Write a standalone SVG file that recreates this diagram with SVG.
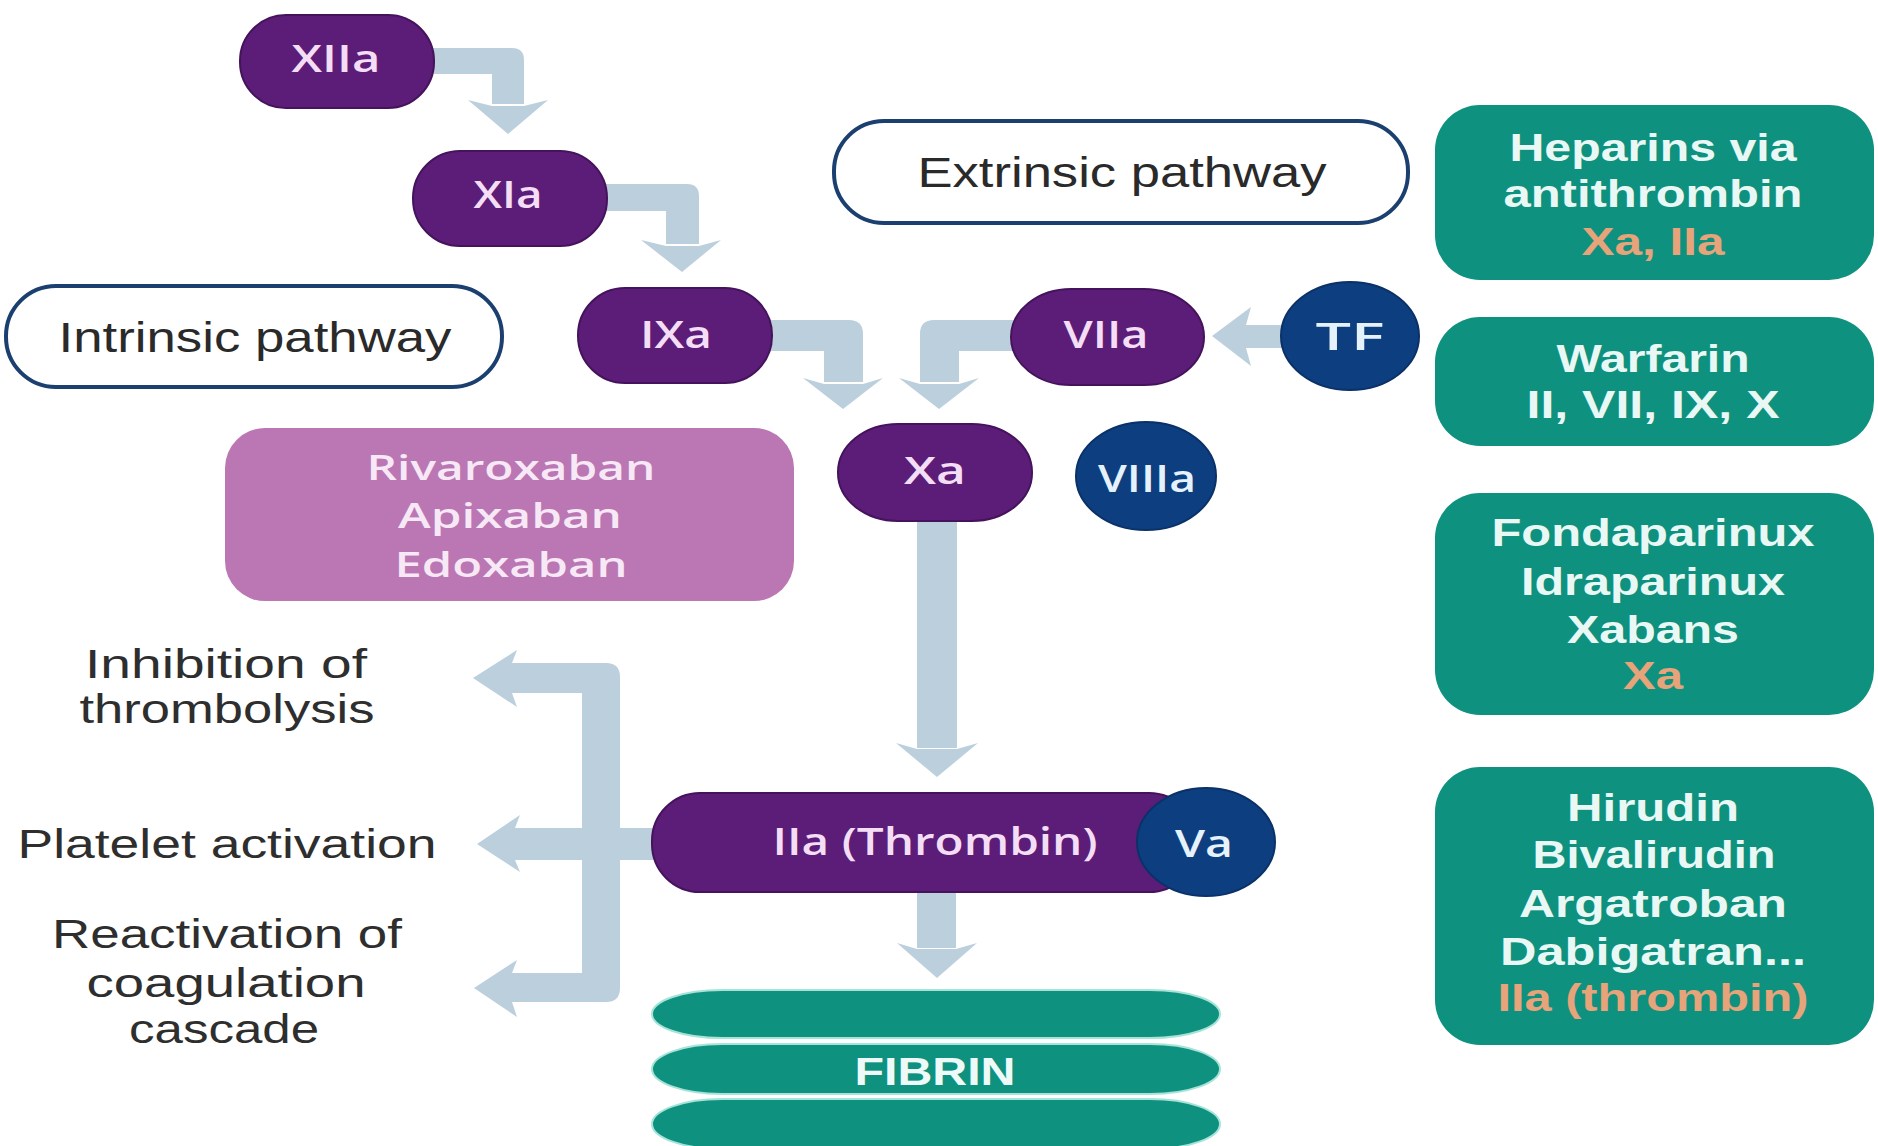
<svg xmlns="http://www.w3.org/2000/svg" width="1878" height="1146" viewBox="0 0 1878 1146">
<style>
.pill{fill:#5c1d78;stroke:#45135c;stroke-width:2}
.blue{fill:#0d3f80;stroke:#0a3168;stroke-width:2}
.lbl{font-family:"Open Sans","Liberation Sans",sans-serif;font-weight:600;font-size:38px;fill:#f3def5;text-anchor:middle}
.lblb{fill:#e6f2fb}
.path{fill:#ffffff;stroke:#1b4070;stroke-width:4}
.ptxt{font-family:"Liberation Sans","Open Sans",sans-serif;font-size:42px;fill:#2a2a2a;text-anchor:middle}
.side{font-family:"Liberation Sans","Open Sans",sans-serif;font-size:40px;fill:#2e2e2e;text-anchor:middle}
.gbox{fill:#0f917f}
.gtxt{font-family:"Liberation Sans","Open Sans",sans-serif;font-weight:bold;font-size:38px;fill:#e9f8f4;text-anchor:middle}
.org{fill:#e7a37a}
.riv{fill:#bb76b4}
.rtxt{font-family:"Open Sans","Liberation Sans",sans-serif;font-weight:600;font-size:35px;fill:#f7e8f6;text-anchor:middle}
.arr{fill:#bccfdd}
.fib{fill:#0f917f;stroke:#a6e3d8;stroke-width:2}
</style>

<g id="connectors">
  <path class="arr" d="M420,48 H512 Q524,48 524,60 V104 H492 V74 H420 Z"/>
  <path class="arr" d="M468,100 L492,106 L524,106 L548,100 L508,134 Z"/>
  <path class="arr" d="M600,184 H687 Q699,184 699,196 V244 H666 V211 H600 Z"/>
  <path class="arr" d="M641,240 L666,246 L699,246 L721,240 L682,272 Z"/>
  <path class="arr" d="M765,320 H849 Q863,320 863,334 V382 H824 V351 H765 Z"/>
  <path class="arr" d="M803,378 L824,384 L863,384 L883,378 L843,409 Z"/>
  <path class="arr" d="M1015,320 H934 Q920,320 920,334 V382 H959 V351 H1015 Z"/>
  <path class="arr" d="M899,378 L920,384 L959,384 L979,378 L939,409 Z"/>
  <path class="arr" d="M1290,325 H1246 V348 H1290 Z"/>
  <path class="arr" d="M1251,307 L1246,325 L1246,348 L1251,366 L1212,336 Z"/>
  <path class="arr" d="M917,515 H957 V748 H917 Z"/>
  <path class="arr" d="M896,743 L917,749 L957,749 L978,743 L937,777 Z"/>
  <path class="arr" d="M917,888 H956 V948 H917 Z"/>
  <path class="arr" d="M897,943 L917,949 L956,949 L977,943 L937,978 Z"/>
  <path class="arr" d="M512,663 H606 Q620,663 620,677 V988 Q620,1002 606,1002 H512 V973 H582 V693 H512 Z"/>
  <path class="arr" d="M515,828 H662 V860 H515 Z"/>
  <path class="arr" d="M517,650 L512,663 L512,693 L517,707 L473,678 Z"/>
  <path class="arr" d="M520,815 L515,828 L515,860 L520,872 L477,844 Z"/>
  <path class="arr" d="M517,960 L512,973 L512,1002 L517,1017 L474,988 Z"/>
</g>

<g id="node-XIIa">
  <rect class="pill" x="240" y="15" width="194" height="93" rx="46"/>
  <text class="lbl" x="336" y="72" textLength="89" lengthAdjust="spacingAndGlyphs">XIIa</text>
</g>
<g id="node-XIa">
  <rect class="pill" x="413" y="151" width="194" height="95" rx="47"/>
  <text class="lbl" x="508" y="208" textLength="69" lengthAdjust="spacingAndGlyphs">XIa</text>
</g>
<g id="node-IXa">
  <rect class="pill" x="578" y="288" width="194" height="95" rx="47"/>
  <text class="lbl" x="676" y="348" textLength="72" lengthAdjust="spacingAndGlyphs">IXa</text>
</g>
<g id="node-VIIa">
  <rect class="pill" x="1011" y="289" width="193" height="96" rx="60" ry="48"/>
  <text class="lbl" x="1106" y="348" textLength="85" lengthAdjust="spacingAndGlyphs">VIIa</text>
</g>
<g id="node-TF">
  <ellipse class="blue" cx="1350" cy="336" rx="69" ry="54"/>
  <text class="lbl lblb" x="1350" y="350" textLength="69" lengthAdjust="spacingAndGlyphs">TF</text>
</g>
<g id="node-Xa">
  <rect class="pill" x="838" y="424" width="194" height="97" rx="60" ry="48"/>
  <text class="lbl" x="935" y="484" textLength="62" lengthAdjust="spacingAndGlyphs">Xa</text>
</g>
<g id="node-VIIIa">
  <ellipse class="blue" cx="1146" cy="476" rx="70" ry="54"/>
  <text class="lbl lblb" x="1147" y="492" textLength="98" lengthAdjust="spacingAndGlyphs">VIIIa</text>
</g>
<g id="node-intrinsic">
  <rect class="path" x="6" y="286" width="496" height="101" rx="50"/>
  <text class="ptxt" x="255" y="352" textLength="393" lengthAdjust="spacingAndGlyphs">Intrinsic pathway</text>
</g>
<g id="node-extrinsic">
  <rect class="path" x="834" y="121" width="574" height="102" rx="50"/>
  <text class="ptxt" x="1122" y="187" textLength="409" lengthAdjust="spacingAndGlyphs">Extrinsic pathway</text>
</g>
<g id="node-xabans">
  <rect class="riv" x="225" y="428" width="569" height="173" rx="40"/>
  <text class="rtxt" x="511" y="480" textLength="289" lengthAdjust="spacingAndGlyphs">Rivaroxaban</text>
  <text class="rtxt" x="510" y="528" textLength="224" lengthAdjust="spacingAndGlyphs">Apixaban</text>
  <text class="rtxt" x="511" y="577" textLength="233" lengthAdjust="spacingAndGlyphs">Edoxaban</text>
</g>
<g id="node-thrombin">
  <rect class="pill" x="652" y="793" width="545" height="99" rx="48"/>
  <text class="lbl" x="935" y="855" textLength="325" lengthAdjust="spacingAndGlyphs">IIa (Thrombin)</text>
</g>
<g id="node-Va">
  <ellipse class="blue" cx="1206" cy="842" rx="69" ry="54"/>
  <text class="lbl lblb" x="1204" y="857" textLength="58" lengthAdjust="spacingAndGlyphs">Va</text>
</g>
<g id="node-fibrin">
  <rect class="fib" x="652" y="990" width="568" height="48" rx="70" ry="24"/>
  <rect class="fib" x="652" y="1044" width="568" height="50" rx="70" ry="25"/>
  <rect class="fib" x="652" y="1099" width="568" height="50" rx="70" ry="25"/>
  <text x="935" y="1085" textLength="161" lengthAdjust="spacingAndGlyphs" style="font-family:'Liberation Sans',sans-serif;font-weight:bold;font-size:38px;fill:#eefaf8;text-anchor:middle">FIBRIN</text>
</g>
<g id="label-thrombolysis">
  <text class="side" x="226" y="678" textLength="282" lengthAdjust="spacingAndGlyphs">Inhibition of</text>
  <text class="side" x="227" y="723" textLength="295" lengthAdjust="spacingAndGlyphs">thrombolysis</text>
</g>
<g id="label-platelet">
  <text class="side" x="227" y="858" textLength="419" lengthAdjust="spacingAndGlyphs">Platelet activation</text>
</g>
<g id="label-reactivation">
  <text class="side" x="227" y="948" textLength="350" lengthAdjust="spacingAndGlyphs">Reactivation of</text>
  <text class="side" x="226" y="997" textLength="279" lengthAdjust="spacingAndGlyphs">coagulation</text>
  <text class="side" x="224" y="1043" textLength="190" lengthAdjust="spacingAndGlyphs">cascade</text>
</g>
<g id="node-heparins">
  <rect class="gbox" x="1435" y="105" width="439" height="175" rx="45"/>
  <text class="gtxt" x="1653" y="161" textLength="287" lengthAdjust="spacingAndGlyphs">Heparins via</text>
  <text class="gtxt" x="1653" y="207" textLength="299" lengthAdjust="spacingAndGlyphs">antithrombin</text>
  <text class="gtxt org" x="1653" y="255" textLength="143" lengthAdjust="spacingAndGlyphs">Xa, IIa</text>
</g>
<g id="node-warfarin">
  <rect class="gbox" x="1435" y="317" width="439" height="129" rx="45"/>
  <text class="gtxt" x="1653" y="372" textLength="193" lengthAdjust="spacingAndGlyphs">Warfarin</text>
  <text class="gtxt" x="1653" y="418" textLength="253" lengthAdjust="spacingAndGlyphs">II, VII, IX, X</text>
</g>
<g id="node-fondaparinux">
  <rect class="gbox" x="1435" y="493" width="439" height="222" rx="45"/>
  <text class="gtxt" x="1653" y="546" textLength="323" lengthAdjust="spacingAndGlyphs">Fondaparinux</text>
  <text class="gtxt" x="1653" y="595" textLength="264" lengthAdjust="spacingAndGlyphs">Idraparinux</text>
  <text class="gtxt" x="1653" y="643" textLength="172" lengthAdjust="spacingAndGlyphs">Xabans</text>
  <text class="gtxt org" x="1653" y="689" textLength="60" lengthAdjust="spacingAndGlyphs">Xa</text>
</g>
<g id="node-hirudin">
  <rect class="gbox" x="1435" y="767" width="439" height="278" rx="45"/>
  <text class="gtxt" x="1653" y="821" textLength="172" lengthAdjust="spacingAndGlyphs">Hirudin</text>
  <text class="gtxt" x="1654" y="868" textLength="243" lengthAdjust="spacingAndGlyphs">Bivalirudin</text>
  <text class="gtxt" x="1653" y="917" textLength="268" lengthAdjust="spacingAndGlyphs">Argatroban</text>
  <text class="gtxt" x="1653" y="965" textLength="306" lengthAdjust="spacingAndGlyphs">Dabigatran...</text>
  <text class="gtxt org" x="1653" y="1011" textLength="311" lengthAdjust="spacingAndGlyphs">IIa (thrombin)</text>
</g>
</svg>
